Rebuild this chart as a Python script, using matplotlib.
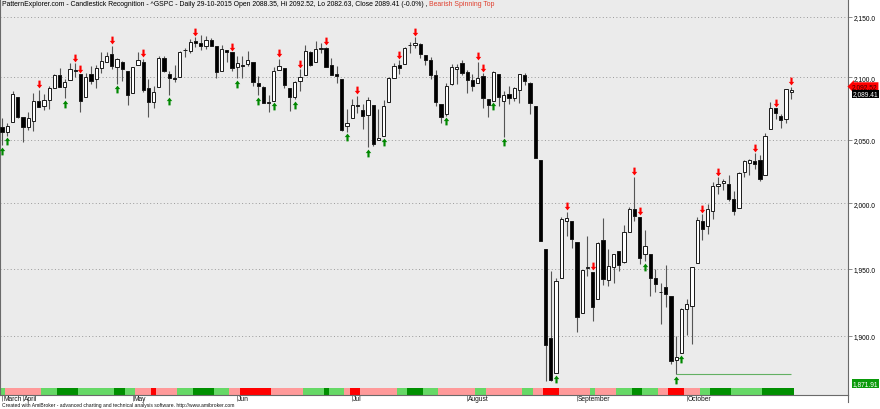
import numpy as np
import pandas as pd
import matplotlib
matplotlib.use("Agg")
import matplotlib.pyplot as plt
from matplotlib import transforms
from matplotlib.path import Path
from matplotlib.lines import Line2D

plt.rcParams['font.family'] = ['Liberation Sans', 'DejaVu Sans']

# ^GSPC daily bars, 26-03-2015 .. 29-10-2015
holidays = ['2015-04-03', '2015-05-25', '2015-07-03', '2015-09-07']
dates = pd.bdate_range('2015-03-26', '2015-10-29').drop(pd.to_datetime(holidays))

opens = [2059.94, 2055.78, 2064.11, 2084.05, 2067.63, 2060.03, 2064.87, 2080.79, 2076.94, 2081.29,
         2091.51, 2102.03, 2092.28, 2097.82, 2105.96, 2102.58, 2084.11, 2102.82, 2098.27, 2107.21,
         2112.80, 2119.29, 2108.35, 2112.49, 2105.52, 2087.38, 2110.23, 2112.63, 2091.26, 2079.96,
         2092.13, 2115.56, 2102.87, 2099.62, 2100.43, 2122.07, 2121.30, 2129.45, 2127.79, 2125.55,
         2130.36, 2125.34, 2105.13, 2122.27, 2120.66, 2108.64, 2110.41, 2110.64, 2112.35, 2095.09,
         2092.34, 2079.07, 2081.12, 2106.24, 2107.43, 2091.34, 2084.26, 2097.40, 2101.58, 2121.06,
         2112.50, 2123.16, 2123.65, 2109.96, 2102.62, 2098.63, 2061.19, 2067.00, 2078.03, 2073.95,
         2069.52, 2077.66, 2049.73, 2052.74, 2080.03, 2099.72, 2109.70, 2110.55, 2126.80, 2126.85,
         2127.55, 2118.21, 2114.16, 2102.24, 2078.19, 2070.75, 2094.70, 2106.78, 2111.60, 2104.49,
         2097.68, 2095.27, 2100.75, 2082.61, 2080.98, 2102.66, 2081.10, 2086.19, 2083.15, 2089.70,
         2101.99, 2095.69, 2076.61, 2034.08, 1965.15, 1898.08, 1872.75, 1942.77, 1986.06, 1986.73,
         1970.09, 1916.52, 1950.79, 1947.76, 1927.30, 1971.45, 1941.59, 1951.45, 1963.06, 1955.10,
         1978.02, 1995.33, 1989.66, 1960.84, 1961.39, 1943.24, 1932.24, 1935.93, 1929.18, 1881.90,
         1887.14, 1919.65, 1921.77, 1954.33, 1986.63, 1982.34, 1994.01, 2013.73, 2015.65, 2015.00,
         2003.66, 1996.47, 2024.37, 2031.73, 2033.13, 2033.47, 2021.88, 2058.19, 2075.08, 2068.75,
         2066.48, 2088.35]
highs = [2067.15, 2062.83, 2088.97, 2084.05, 2067.63, 2072.17, 2086.99, 2089.81, 2086.69, 2093.31,
         2102.61, 2107.65, 2098.62, 2111.91, 2111.30, 2102.58, 2103.94, 2109.64, 2109.98, 2120.49,
         2120.92, 2125.92, 2116.04, 2113.65, 2105.52, 2108.41, 2120.95, 2115.24, 2098.42, 2092.90,
         2117.66, 2117.69, 2105.06, 2110.19, 2121.45, 2123.89, 2131.78, 2133.02, 2134.72, 2134.28,
         2132.15, 2125.34, 2126.22, 2122.27, 2120.66, 2117.61, 2117.59, 2121.92, 2112.89, 2100.99,
         2093.01, 2085.62, 2108.50, 2115.02, 2107.43, 2091.34, 2097.40, 2106.79, 2126.65, 2121.64,
         2129.87, 2128.03, 2125.10, 2116.04, 2108.92, 2098.63, 2074.28, 2082.78, 2085.06, 2078.61,
         2083.74, 2077.66, 2074.28, 2081.31, 2099.88, 2111.98, 2114.14, 2124.42, 2128.91, 2132.82,
         2128.49, 2118.51, 2116.87, 2106.01, 2078.19, 2095.60, 2110.60, 2110.48, 2114.24, 2105.70,
         2102.51, 2112.66, 2103.32, 2082.61, 2105.35, 2102.66, 2089.06, 2092.93, 2092.45, 2102.87,
         2103.47, 2096.17, 2076.61, 2034.08, 1965.15, 1948.04, 1943.09, 1989.60, 1993.48, 1986.73,
         1970.09, 1948.91, 1975.01, 1947.76, 1970.42, 1988.63, 1965.29, 1961.05, 1963.06, 1983.19,
         1997.26, 2020.86, 1989.66, 1979.64, 1961.39, 1949.52, 1938.88, 1952.89, 1929.18, 1899.48,
         1920.53, 1927.21, 1951.36, 1989.17, 1991.62, 1999.31, 2016.50, 2020.13, 2018.66, 2022.34,
         2009.56, 2024.15, 2033.54, 2034.45, 2039.12, 2037.97, 2055.20, 2079.74, 2075.14, 2070.37,
         2090.60, 2092.52]
lows = [2045.50, 2052.96, 2064.11, 2067.04, 2048.38, 2057.32, 2056.52, 2076.10, 2073.30, 2074.29,
        2091.51, 2092.33, 2083.24, 2097.82, 2100.02, 2072.37, 2084.11, 2094.38, 2091.05, 2103.19,
        2112.80, 2107.04, 2094.89, 2097.41, 2077.59, 2087.38, 2110.23, 2088.46, 2067.93, 2074.99,
        2092.13, 2104.58, 2085.57, 2096.04, 2100.43, 2116.81, 2120.01, 2124.50, 2122.59, 2122.95,
        2126.06, 2099.18, 2105.13, 2112.86, 2104.89, 2099.14, 2099.14, 2109.61, 2093.23, 2085.67,
        2079.11, 2072.14, 2081.12, 2106.24, 2091.33, 2072.49, 2082.10, 2088.86, 2101.58, 2109.45,
        2112.50, 2119.89, 2108.58, 2101.78, 2095.38, 2056.64, 2056.32, 2067.00, 2071.02, 2058.40,
        2044.02, 2044.66, 2049.73, 2052.74, 2080.03, 2099.72, 2102.49, 2110.55, 2119.89, 2123.66,
        2115.40, 2110.00, 2098.63, 2077.09, 2063.52, 2069.09, 2094.08, 2094.97, 2102.07, 2087.31,
        2088.60, 2095.27, 2075.53, 2067.91, 2080.98, 2076.49, 2052.09, 2078.26, 2080.61, 2079.30,
        2094.14, 2070.53, 2035.73, 1970.89, 1867.01, 1867.08, 1872.75, 1942.77, 1975.19, 1965.98,
        1903.07, 1916.52, 1944.72, 1911.21, 1927.30, 1937.88, 1937.19, 1939.19, 1948.27, 1954.30,
        1977.93, 1986.73, 1953.45, 1955.80, 1929.22, 1932.57, 1908.88, 1921.50, 1879.21, 1871.91,
        1887.14, 1900.70, 1893.70, 1954.33, 1971.99, 1976.44, 1987.53, 2007.61, 2010.55, 2001.78,
        1990.73, 1996.47, 2020.46, 2022.31, 2026.61, 2017.22, 2021.88, 2058.19, 2066.53, 2058.84,
        2063.11, 2082.63]
closes = [2056.15, 2061.02, 2086.24, 2067.89, 2059.69, 2066.96, 2080.62, 2076.33, 2081.90, 2091.18,
          2102.06, 2092.43, 2095.84, 2106.63, 2104.99, 2081.18, 2100.40, 2097.29, 2107.96, 2112.93,
          2117.69, 2108.92, 2114.76, 2106.85, 2085.51, 2108.29, 2114.49, 2089.46, 2080.15, 2088.00,
          2116.10, 2105.33, 2099.12, 2098.48, 2121.10, 2122.73, 2129.20, 2127.83, 2125.85, 2130.82,
          2126.06, 2104.20, 2123.48, 2120.79, 2107.39, 2111.73, 2109.60, 2114.07, 2095.84, 2092.83,
          2079.28, 2080.15, 2105.20, 2108.86, 2094.11, 2084.43, 2096.29, 2100.44, 2121.24, 2109.99,
          2122.85, 2124.20, 2108.58, 2102.31, 2101.49, 2057.64, 2063.11, 2077.42, 2076.78, 2068.76,
          2081.34, 2046.68, 2051.31, 2076.62, 2099.60, 2108.95, 2107.40, 2124.29, 2126.64, 2128.28,
          2119.21, 2114.15, 2102.15, 2079.65, 2067.64, 2093.25, 2108.57, 2108.63, 2103.84, 2098.04,
          2093.32, 2099.84, 2083.56, 2077.57, 2104.18, 2084.07, 2086.05, 2083.39, 2091.54, 2102.44,
          2096.92, 2079.61, 2035.73, 1970.89, 1893.21, 1867.61, 1940.51, 1987.66, 1988.87, 1972.18,
          1913.85, 1948.86, 1951.13, 1921.22, 1969.41, 1942.04, 1952.29, 1961.05, 1953.03, 1978.09,
          1995.31, 1990.20, 1958.03, 1966.97, 1942.74, 1938.76, 1932.24, 1931.34, 1881.77, 1884.09,
          1920.03, 1923.82, 1951.36, 1987.05, 1979.92, 1995.83, 2013.43, 2014.89, 2017.46, 2003.69,
          1994.24, 2023.86, 2033.11, 2033.66, 2030.77, 2018.94, 2052.51, 2075.15, 2071.18, 2065.89,
          2090.35, 2089.41]

# pattern signals (bar numbers)
bearish_bars = [7, 14, 15, 21, 27, 37, 44, 53, 57, 62, 68, 76, 79, 91, 92, 108, 113, 121, 122,
                134, 137, 144, 148, 151]
bullish_bars = [0, 1, 12, 22, 32, 45, 49, 52, 56, 66, 70, 73, 85, 94, 96, 106, 123, 129, 130]

# ribbon state per bar: P weak bear, R bear, g weak bull, G bull
ribbon_runs = [("g", 1), ("P", 7), ("g", 3), ("G", 4), ("g", 7), ("G", 2), ("g", 2), ("P", 3),
               ("R", 1), ("P", 4), ("g", 3), ("G", 4), ("g", 3), ("P", 2), ("R", 6), ("P", 6),
               ("g", 4), ("G", 1), ("g", 3), ("P", 1), ("R", 2), ("P", 7), ("g", 2), ("G", 3),
               ("g", 3), ("P", 7), ("g", 2), ("P", 7), ("g", 2), ("P", 2), ("R", 3), ("P", 6),
               ("g", 1), ("P", 4), ("g", 3), ("G", 2), ("g", 3), ("P", 2), ("R", 3), ("P", 3),
               ("g", 2), ("G", 4), ("g", 6), ("G", 6)]
ribbon = "".join(c * k for c, k in ribbon_runs)
ribbon_colors = {"P": "#ff9a9a", "R": "#ff0000", "g": "#66d866", "G": "#008f00"}

support_bar = 129
month_labels = ["March", "April", "May", "Jun", "Jul", "August", "September", "October"]
yticks = [1900, 1950, 2000, 2050, 2100, 2150]

title_black = ("PatternExplorer.com - Candlestick Recognition - ^GSPC - Daily 29-10-2015 "
               "Open 2088.35, Hi 2092.52, Lo 2082.63, Close 2089.41 (-0.0%) , ")
title_red = "Bearish Spinning Top"
footer = ("Created with AmiBroker - advanced charting and technical analysis software. "
          "http://www.amibroker.com")

opens, highs, lows, closes = map(np.array, (opens, highs, lows, closes))
n = len(closes)
x = np.arange(n)
month_pos = [0] + [i for i in range(1, n) if dates[i].month != dates[i - 1].month]

W, H = 880, 410
fig = plt.figure(figsize=(W / 100, H / 100), dpi=100)
ax = fig.add_axes([0, 14 / H, 848 / W, 396 / H])
ax.set_facecolor('#ebebeb')
ax.set_yscale('log')
ax.set_ylim(1856.9, 2164.7)
ax.set_xlim(-0.40, 161.86)

# grid
ax.set_yticks(yticks)
ax.yaxis.set_minor_locator(matplotlib.ticker.NullLocator())
ax.set_yticklabels([f"{v:,.1f}" for v in yticks])
ax.yaxis.grid(True, linestyle=(0, (1, 2.5)), color='#9a9a9a', linewidth=0.7)
ax.set_axisbelow(True)
ax.yaxis.tick_right()
ax.tick_params(axis='y', which='both', length=3, width=0.6, color='#777777', pad=1,
               labelsize=4.8, left=False, labelleft=False)

# candles
up = closes >= opens
lo_b = np.minimum(opens, closes)
hi_b = np.maximum(opens, closes)
ax.vlines(x, lows, highs, color='#555555', linewidth=0.8, zorder=3)
ax.bar(x, hi_b - lo_b, bottom=lo_b, width=0.62,
       color=np.where(up, 'white', 'black'), edgecolor='#1a1a1a', linewidth=0.7, zorder=4)

# support line from the last swing low
ax.hlines(lows[support_bar], support_bar, n - 1, color='#62b062', linewidth=0.8, zorder=2)

# arrows
arrow_up = Path([(0, 1), (0.7, 0.1), (0.28, 0.1), (0.28, -1), (-0.28, -1), (-0.28, 0.1),
                 (-0.7, 0.1), (0, 1)],
                [Path.MOVETO] + [Path.LINETO] * 6 + [Path.CLOSEPOLY])
arrow_dn = Path(arrow_up.vertices * np.array([1, -1]), arrow_up.codes)
tr_above = transforms.offset_copy(ax.transData, fig=fig, x=0, y=5.5, units='dots')
tr_below = transforms.offset_copy(ax.transData, fig=fig, x=0, y=-5.5, units='dots')
ax.plot(x[bearish_bars], highs[bearish_bars], linestyle='none', marker=arrow_dn, markersize=5.6,
        markerfacecolor='#ff0000', markeredgewidth=0, transform=tr_above, zorder=5, clip_on=False)
ax.plot(x[bullish_bars], lows[bullish_bars], linestyle='none', marker=arrow_up, markersize=5.6,
        markerfacecolor='#008800', markeredgewidth=0, transform=tr_below, zorder=5, clip_on=False)

# ribbon at the bottom of the pane
ax.bar(x, 7 / 396, bottom=0, width=1.0, color=[ribbon_colors[c] for c in ribbon],
       linewidth=0, transform=ax.get_xaxis_transform(), zorder=1)

# x axis
ax.set_xticks(month_pos)
ax.tick_params(axis='x', length=4, width=0.6, color='#777777', labelbottom=False)
tr_month = transforms.offset_copy(ax.get_xaxis_transform(), fig=fig, x=1, y=-0.5, units='dots')
for i, lab in zip(month_pos, month_labels):
    ax.text(i, 0, lab, transform=tr_month, ha='left', va='top', fontsize=4.8, color='#111111')

ax.spines['top'].set_visible(False)
for side in ['left', 'bottom', 'right']:
    ax.spines[side].set_color('#6a6a6a')
    ax.spines[side].set_linewidth(0.8)
fig.add_artist(Line2D([848 / W, 848 / W], [7 / H, 14 / H], color='#6a6a6a', linewidth=0.8))

# value labels on the price axis
tr_lab = transforms.blended_transform_factory(ax.transAxes, ax.transData)
ax.text(1 + 4 / 848, highs[-1], f"{highs[-1]:,.2f}", transform=tr_lab, ha='left', va='center',
        fontsize=4.8, color='#3a0000', clip_on=False, zorder=6,
        bbox=dict(boxstyle='larrow,pad=0.12', facecolor='#ff0000', edgecolor='none'))
tr_close = transforms.offset_copy(tr_lab, fig=fig, x=0, y=-3.5, units='dots')
ax.text(1 + 5 / 848, closes[-1], f"{closes[-1]:,.2f}", transform=tr_close, ha='left',
        va='center', fontsize=4.8, color='white', clip_on=False, zorder=6,
        bbox=dict(boxstyle='square,pad=0.12', facecolor='black', edgecolor='none'))
tr_sup = transforms.offset_copy(tr_lab, fig=fig, x=0, y=-9.5, units='dots')
ax.text(1 + 5 / 848, lows[support_bar], f"{lows[support_bar]:,.2f}", transform=tr_sup, ha='left',
        va='center', fontsize=4.8, color='white', clip_on=False, zorder=6,
        bbox=dict(boxstyle='square,pad=0.12', facecolor='#0a9a0a', edgecolor='none'))

# title and footer
t1 = fig.text(2 / W, 1 - 1.5 / H, title_black, ha='left', va='top', fontsize=4.95, color='black')
ax.annotate(title_red, xy=(1, 0), xycoords=t1, ha='left', va='bottom', fontsize=4.95,
            color='#e0402f', annotation_clip=False)
fig.text(2 / W, 1 - 406 / H, footer, ha='left', va='center', fontsize=3.6, color='#111111')

fig.savefig('out.png', dpi=100)
